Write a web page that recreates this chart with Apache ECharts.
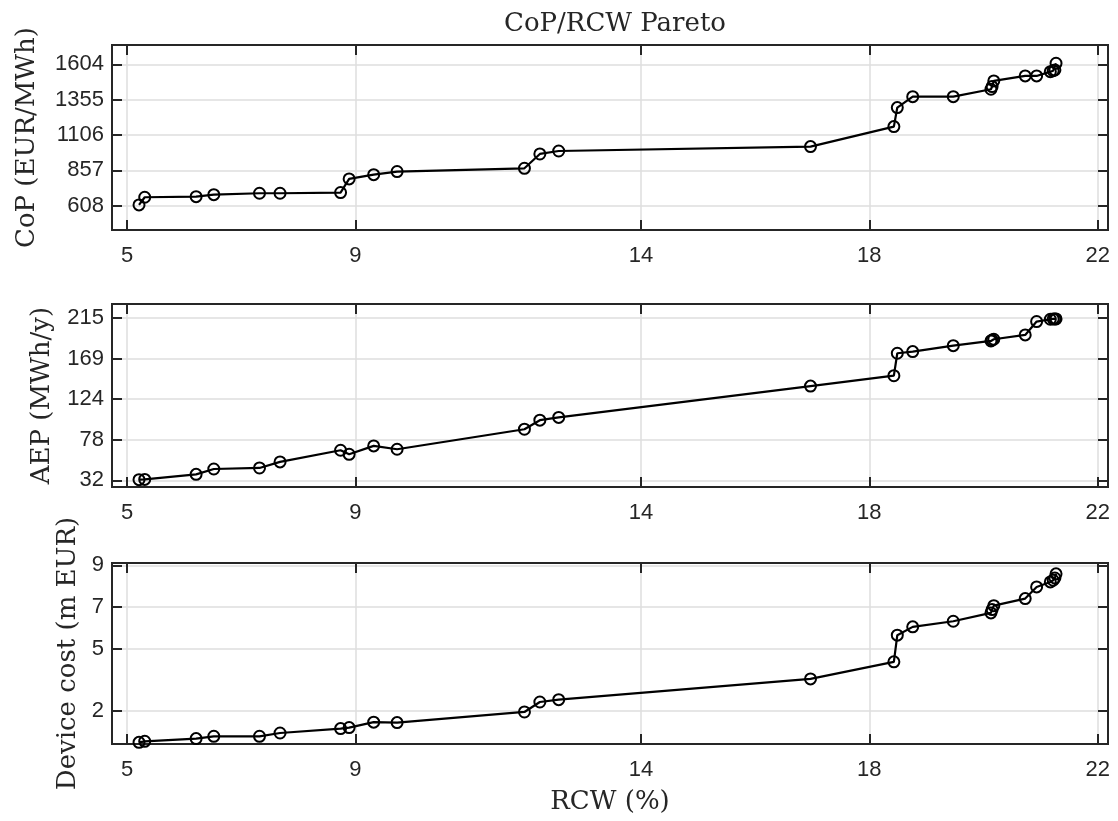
<!DOCTYPE html>
<html>
<head>
<meta charset="utf-8">
<style>
html, body { margin: 0; padding: 0; background: #fff; }
#chart { width: 1118px; height: 821px; }
</style>
</head>
<body>
<div id="chart"></div>
<script src="https://cdn.jsdelivr.net/npm/echarts@6/dist/echarts.min.js"></script>
<script>
// pareto front (same RCW for all three panels)
var rcw  = [5.21, 5.31, 6.21, 6.52, 7.32, 7.68, 8.74, 8.89, 9.32, 9.73, 11.96, 12.23, 12.56,
            16.97, 18.43, 18.49, 18.76, 19.47, 20.13, 20.15, 20.18, 20.73, 20.93, 21.17, 21.22, 21.25, 21.27];
var cop  = [613, 667, 671, 685, 695, 695, 700, 796, 826, 848, 871, 972, 993,
            1024, 1165, 1299, 1376, 1376, 1428, 1447, 1487, 1522, 1522, 1552, 1559, 1564, 1611];
var aep  = [32.8, 33.1, 38.8, 44.8, 46.0, 52.8, 66.0, 61.4, 70.9, 67.1, 89.7, 99.9, 103,
            138.4, 150.1, 175.4, 177.3, 184, 189.3, 190.4, 191.2, 196.1, 211.2, 213.8, 214.2, 214.2, 214.2];
var cost = [0.49, 0.54, 0.67, 0.78, 0.78, 0.94, 1.15, 1.20, 1.46, 1.44, 1.95, 2.43, 2.54,
            3.54, 4.36, 5.64, 6.04, 6.31, 6.71, 6.87, 7.06, 7.40, 7.96, 8.20, 8.28, 8.39, 8.59];

var xTicks    = [5, 9, 14, 18, 22];
var copTicks  = [608, 857, 1106, 1355, 1604];
var aepTicks  = [32, 78, 124, 169, 215];
var costTicks = [2, 5, 7, 9];

var ink = '#262626';
var serif = 'DejaVu Serif';
var sans = 'Liberation Sans';
var plain = function (v) { return String(v); };

var panels = [
  {name: 'CoP (EUR/MWh)', vals: cop, ticks: copTicks, min: 436, max: 1740, top: 45, height: 185, gap: 72},
  {name: 'AEP (MWh/y)', vals: aep, ticks: aepTicks, min: 24.5, max: 231, top: 304, height: 183, gap: 57},
  {name: 'Device cost (m EUR)', vals: cost, ticks: costTicks, min: 0.41, max: 9.11, top: 563, height: 181, gap: 27}
];

var grids = [], xAxes = [], yAxes = [], series = [];
var xMin = 4.737, xMax = 22.18;

panels.forEach(function (p, i) {
  grids.push({
    left: 112, right: 10, top: p.top, height: p.height,
    show: true, borderColor: ink, borderWidth: 2, backgroundColor: '#fff'
  });
  // bottom x axis
  xAxes.push({
    type: 'value', gridIndex: i, min: xMin, max: xMax, position: 'bottom',
    name: i === 2 ? 'RCW (%)' : '', nameLocation: 'middle', nameGap: 45,
    nameTextStyle: {fontFamily: serif, fontSize: 26, color: ink},
    axisLine: {show: false},
    axisTick: {inside: true, length: 10, lineStyle: {color: ink, width: 2}, customValues: xTicks},
    axisLabel: {fontFamily: sans, fontSize: 22, color: ink, margin: 15, customValues: xTicks, formatter: plain},
    splitLine: {show: true, lineStyle: {color: '#dedede', width: 1.5}}
  });
  // left y axis
  yAxes.push({
    type: 'value', gridIndex: i, min: p.min, max: p.max, position: 'left',
    name: p.name, nameLocation: 'middle', nameRotate: 90, nameGap: p.gap,
    nameTextStyle: {fontFamily: serif, fontSize: 26, color: ink},
    axisLine: {show: false},
    axisTick: {inside: true, length: 10, lineStyle: {color: ink, width: 2}, customValues: p.ticks},
    axisLabel: {fontFamily: sans, fontSize: 22, color: ink, margin: 8, customValues: p.ticks, formatter: plain},
    splitLine: {show: true, lineStyle: {color: '#dedede', width: 1.5}}
  });
  series.push({
    type: 'line', xAxisIndex: i, yAxisIndex: i,
    data: rcw.map(function (x, k) { return [x, p.vals[k]]; }),
    symbol: 'circle', symbolSize: 11,
    lineStyle: {color: '#000', width: 2.2},
    itemStyle: {color: 'rgba(0,0,0,0)', borderColor: '#000', borderWidth: 2},
    z: 5
  });
});

// mirrored ticks on top and right edges of each box
panels.forEach(function (p, i) {
  xAxes.push({
    type: 'value', gridIndex: i, min: xMin, max: xMax, position: 'top',
    axisLine: {show: false},
    axisTick: {inside: true, length: 10, lineStyle: {color: ink, width: 2}, customValues: xTicks},
    axisLabel: {show: false, customValues: xTicks},
    splitLine: {show: false}
  });
  yAxes.push({
    type: 'value', gridIndex: i, min: p.min, max: p.max, position: 'right',
    axisLine: {show: false},
    axisTick: {inside: true, length: 10, lineStyle: {color: ink, width: 2}, customValues: p.ticks},
    axisLabel: {show: false, customValues: p.ticks},
    splitLine: {show: false}
  });
});

var chart = echarts.init(document.getElementById('chart'));
chart.setOption({
  animation: false,
  backgroundColor: '#fff',
  title: {
    text: 'CoP/RCW Pareto', left: 610, top: 6, textAlign: 'center',
    textStyle: {fontFamily: serif, fontSize: 26, fontWeight: 'normal', color: ink}
  },
  grid: grids,
  xAxis: xAxes,
  yAxis: yAxes,
  series: series
});
</script>
</body>
</html>
